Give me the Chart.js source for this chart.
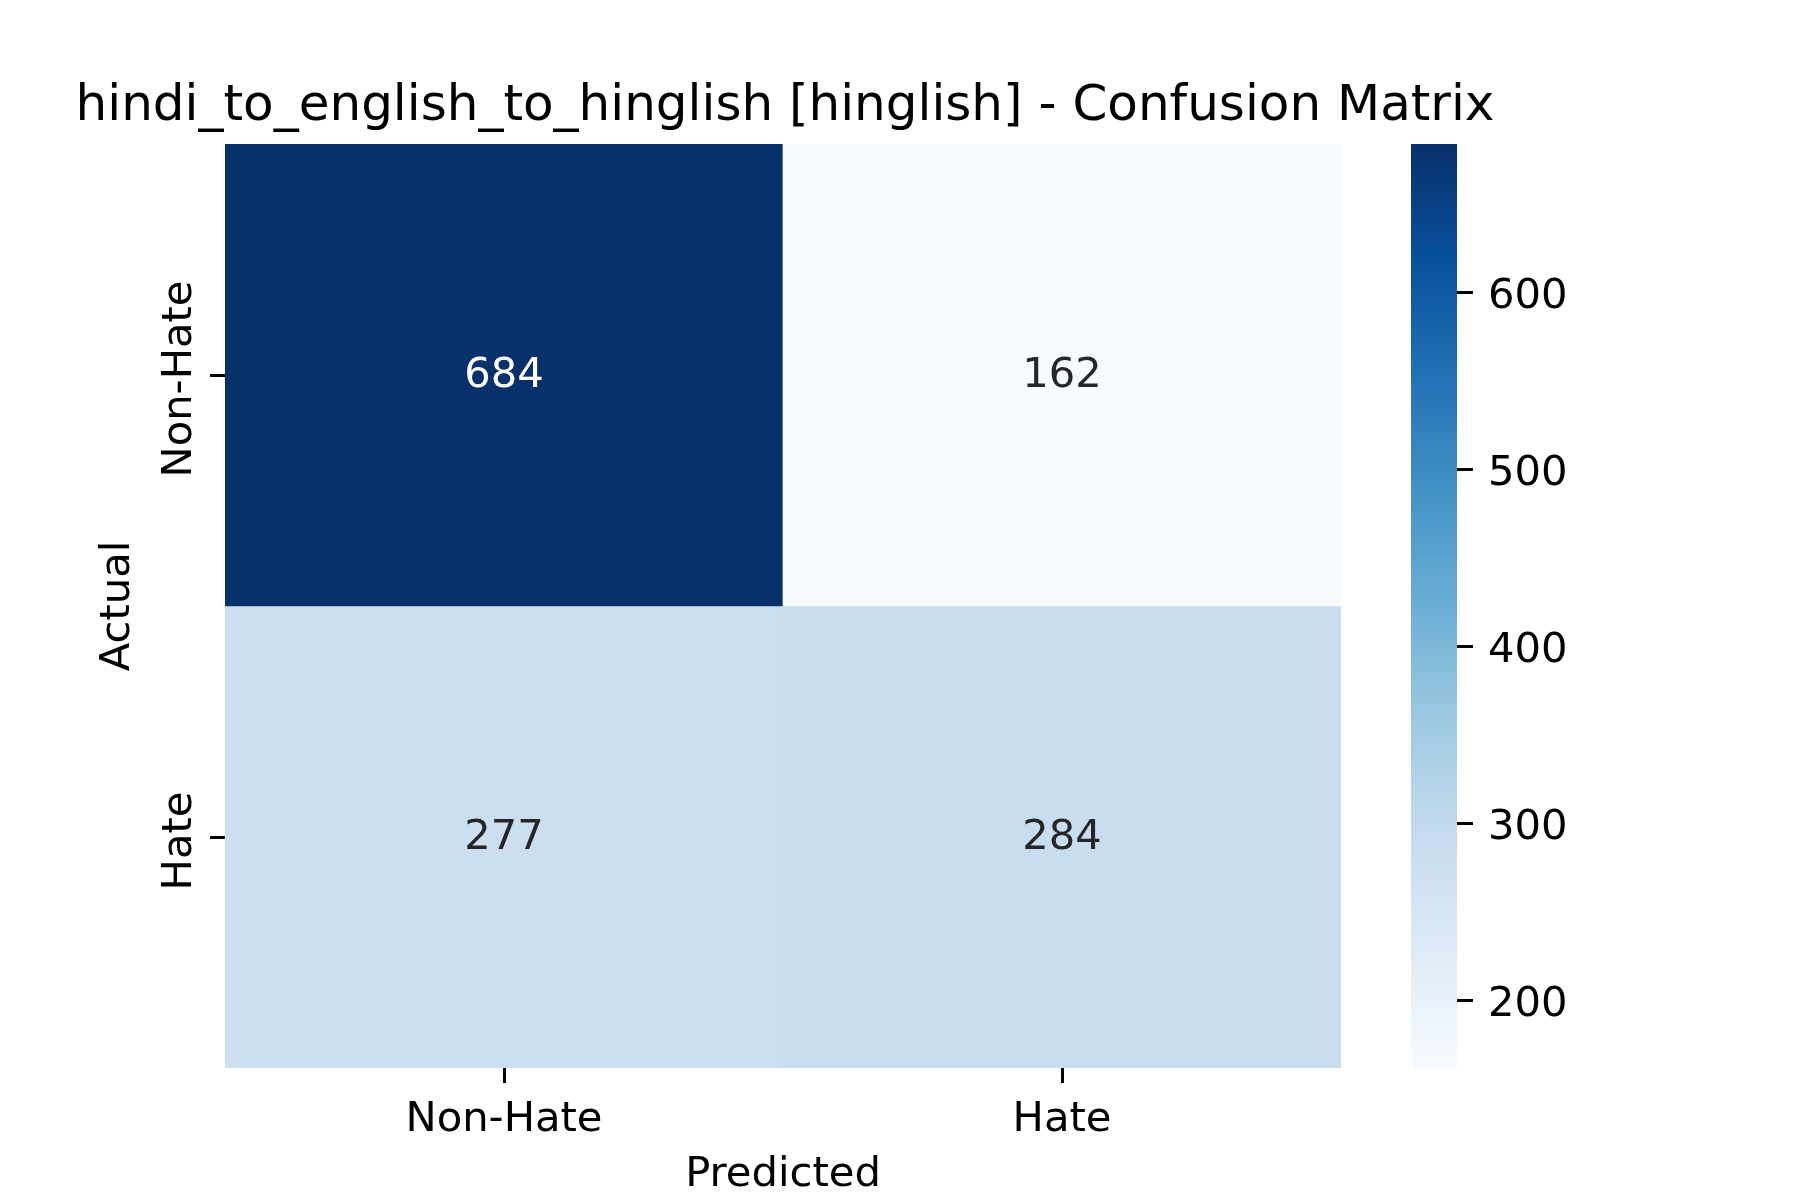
<!DOCTYPE html>
<html>
<head>
<meta charset="utf-8">
<title>Confusion Matrix</title>
<script src="https://cdn.jsdelivr.net/npm/chart.js@4.4.1/dist/chart.umd.min.js"></script>
<style>
  body { margin: 0; background: #fff; }
  #wrap { position: relative; width: 1800px; height: 1200px; }
  #matrix { position: absolute; left: 0; top: 0; }
  #colorbar { position: absolute; left: 1411px; top: 0; }
</style>
</head>
<body>
<div id="wrap">
  <canvas id="matrix" width="1570" height="1200"></canvas>
  <canvas id="colorbar" width="389" height="1200"></canvas>
</div>
<script>
// 資料：列 = 實際類別，欄 = 預測類別
const predictedLabels = ['Non-Hate', 'Hate'];
const actualLabels = ['Non-Hate', 'Hate'];
const nonHateRow = [684, 162];
const hateRow = [277, 284];
const colorbarTicks = [200, 300, 400, 500, 600];

const rows = [nonHateRow, hateRow];
const allValues = rows.flat();
const vmin = Math.min(...allValues);
const vmax = Math.max(...allValues);

const FONT = 'DejaVu Sans';
const LABEL_SIZE = 41.7;

// matplotlib 的 Blues 色階
const blues = ['#f7fbff', '#deebf7', '#c6dbef', '#9ecae1', '#6baed6',
               '#4292c6', '#2171b5', '#08519c', '#08306b'];

function hexToRgb(h) {
    return [parseInt(h.slice(1, 3), 16), parseInt(h.slice(3, 5), 16), parseInt(h.slice(5, 7), 16)];
}

function bluesColor(v) {
    let t = (v - vmin) / (vmax - vmin);
    t = Math.max(0, Math.min(1, t));
    const pos = t * (blues.length - 1);
    const i = Math.min(Math.floor(pos), blues.length - 2);
    const f = pos - i;
    const a = hexToRgb(blues[i]);
    const b = hexToRgb(blues[i + 1]);
    const c = a.map((x, k) => Math.round(x + (b[k] - x) * f));
    return 'rgb(' + c.join(',') + ')';
}

// 每一列畫成一組浮動長條，y 軸 0..2
const datasets = rows.map((row, r) => {
    const lo = rows.length - 1 - r;
    return {
        label: actualLabels[r],
        data: row.map(() => [lo, lo + 1]),
        values: row,
        backgroundColor: row.map(bluesColor),
        borderWidth: 0,
        grouped: false,
        barPercentage: 1,
        categoryPercentage: 1
    };
});

const annotatePlugin = {
    id: 'annotate',
    afterDatasetsDraw(chart) {
        const ctx = chart.ctx;
        ctx.save();
        ctx.font = LABEL_SIZE + 'px "' + FONT + '"';
        ctx.textAlign = 'center';
        ctx.textBaseline = 'middle';
        chart.data.datasets.forEach((ds, di) => {
            chart.getDatasetMeta(di).data.forEach((bar, i) => {
                const v = ds.values[i];
                const t = (v - vmin) / (vmax - vmin);
                ctx.fillStyle = t > 0.5 ? '#ffffff' : '#262626';
                ctx.fillText(String(v), bar.x, (bar.y + bar.base) / 2 + 1.5);
            });
        });
        ctx.restore();
    }
};

const tickGrid = {
    display: true,
    drawOnChartArea: false,
    drawTicks: true,
    tickLength: 15,
    tickWidth: 3,
    tickColor: '#000',
    offset: false
};

new Chart(document.getElementById('matrix'), {
    type: 'bar',
    data: { labels: predictedLabels, datasets: datasets },
    options: {
        responsive: false,
        devicePixelRatio: 1,
        animation: false,
        layout: { padding: 0 },
        plugins: {
            legend: { display: false },
            tooltip: { enabled: false },
            title: {
                display: true,
                text: 'hindi_to_english_to_hinglish [hinglish] - Confusion Matrix',
                color: '#000',
                font: { family: FONT, size: 50, weight: 'normal' },
                padding: { top: 77, bottom: 7 }
            }
        },
        scales: {
            x: {
                grid: tickGrid,
                border: { display: false },
                ticks: {
                    color: '#000',
                    font: { family: FONT, size: LABEL_SIZE },
                    padding: 12,
                    maxRotation: 0
                },
                title: {
                    display: true,
                    text: 'Predicted',
                    color: '#000',
                    font: { family: FONT, size: LABEL_SIZE },
                    padding: { top: -2, bottom: 0 }
                },
                afterFit(s) { s.height = 132; }
            },
            y: {
                min: 0,
                max: 2,
                grid: tickGrid,
                border: { display: false },
                afterBuildTicks(s) {
                    s.ticks = actualLabels.map((_, r) => ({ value: actualLabels.length - 1 - r + 0.5 }));
                },
                ticks: {
                    autoSkip: false,
                    color: '#000',
                    font: { family: FONT, size: LABEL_SIZE },
                    minRotation: 90,
                    maxRotation: 90,
                    crossAlign: 'center',
                    padding: -69,
                    labelOffset: 4,
                    callback: (v) => actualLabels[actualLabels.length - 1 - Math.floor(v)]
                },
                title: {
                    display: true,
                    text: 'Actual',
                    color: '#000',
                    font: { family: FONT, size: LABEL_SIZE },
                    padding: { top: 93, bottom: 0 }
                },
                afterFit(s) { s.width = 225; }
            },
            pad: {
                type: 'linear',
                position: 'right',
                display: true,
                grid: { display: false },
                border: { display: false },
                ticks: { display: false },
                afterFit(s) { s.width = 229; }
            }
        }
    },
    plugins: [annotatePlugin]
});

// 色條：一根從 vmin 到 vmax 的浮動長條，填漸層
function colorbarFill(context) {
    const chart = context.chart;
    const area = chart.chartArea;
    if (!area) return blues[0];
    const ys = chart.scales.y;
    const g = chart.ctx.createLinearGradient(0, ys.getPixelForValue(vmin), 0, ys.getPixelForValue(vmax));
    blues.forEach((c, i) => g.addColorStop(i / (blues.length - 1), c));
    return g;
}

new Chart(document.getElementById('colorbar'), {
    type: 'bar',
    data: {
        labels: [''],
        datasets: [{
            data: [[vmin, vmax]],
            backgroundColor: colorbarFill,
            borderWidth: 0,
            barPercentage: 1,
            categoryPercentage: 1
        }]
    },
    options: {
        responsive: false,
        devicePixelRatio: 1,
        animation: false,
        layout: { padding: { top: 144, bottom: 132, left: 0, right: 143 } },
        plugins: {
            legend: { display: false },
            tooltip: { enabled: false }
        },
        scales: {
            x: { display: false },
            y: {
                position: 'right',
                min: vmin,
                max: vmax,
                afterBuildTicks(s) {
                    s.ticks = colorbarTicks.map(v => ({ value: v }));
                },
                grid: {
                    display: true,
                    drawOnChartArea: false,
                    drawTicks: true,
                    tickLength: 16,
                    tickWidth: 3,
                    tickColor: '#000'
                },
                border: { display: false },
                ticks: {
                    color: '#000',
                    font: { family: FONT, size: LABEL_SIZE },
                    padding: 15,
                    labelOffset: 4
                },
                afterFit(s) { s.width = 200; }
            }
        }
    }
});
</script>
</body>
</html>
